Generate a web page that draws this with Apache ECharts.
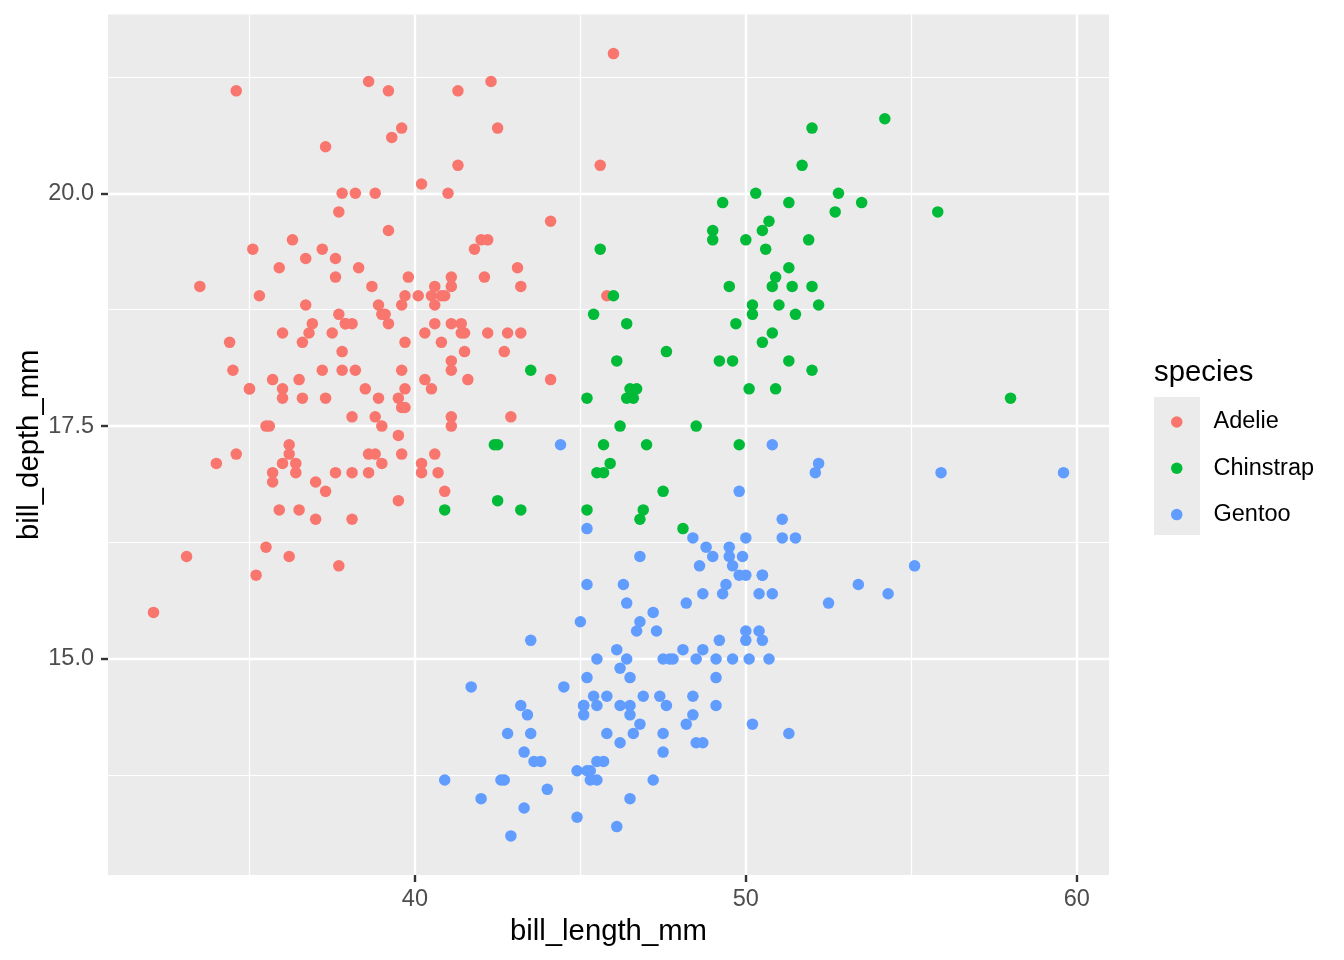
<!DOCTYPE html>
<html>
<head>
<meta charset="utf-8">
<title>penguins bill length vs depth</title>
<script src="https://cdn.jsdelivr.net/npm/echarts@6/dist/echarts.min.js"></script>
<style>
  html, body { margin: 0; padding: 0; background: #fff; }
  #chart { width: 1344px; height: 960px; }
</style>
</head>
<body>
<div id="chart"></div>
<script>
// bill_length_mm, bill_depth_mm per species
var adelie = [
  [39.1,18.7],[39.5,17.4],[40.3,18],[36.7,19.3],[39.3,20.6],[38.9,17.8],[39.2,19.6],[41.1,17.6],[38.6,21.2],
  [34.6,21.1],[36.6,17.8],[38.7,19],[42.5,20.7],[34.4,18.4],[46,21.5],[37.8,18.3],
  [37.7,18.7],[35.9,19.2],[38.2,18.1],[38.8,17.2],[35.3,18.9],[40.6,18.6],[40.5,17.9],[37.9,18.6],[40.5,18.9],[39.5,16.7],
  [37.2,18.1],[39.5,17.8],[40.9,18.9],[36.4,17],[39.2,21.1],[38.8,20],[42.2,18.5],[37.6,19.3],[39.8,19.1],[36.5,18],
  [40.8,18.4],[36,18.5],[44.1,19.7],[37,16.9],[39.6,18.8],[41.1,19],[36,17.9],[42.3,21.2],[39.6,17.7],
  [40.1,18.9],[35,17.9],[42,19.5],[34.5,18.1],[41.4,18.6],[39,17.5],[40.6,18.8],[36.5,16.6],[37.6,19.1],[35.7,16.9],
  [41.3,21.1],[37.6,17],[41.1,18.2],[36.4,17.1],[41.6,18],[35.5,16.2],[41.1,19.1],[35.9,16.6],[41.8,19.4],[33.5,19],
  [39.7,18.4],[39.6,17.2],[45.8,18.9],[35.5,17.5],[42.8,18.5],[40.9,16.8],[37.2,19.4],[36.2,16.1],[42.1,19.1],[34.6,17.2],
  [42.9,17.6],[36.7,18.8],[35.1,19.4],[37.3,17.8],[41.3,20.3],[36.3,19.5],[36.9,18.6],[38.3,19.2],[38.9,18.8],[35.7,18],
  [41.1,18.1],[34,17.1],[39.6,18.1],[36.2,17.3],[40.8,18.9],[38.1,18.6],[40.3,18.5],[33.1,16.1],[43.2,18.5],[35,17.9],
  [41,20],[37.7,16],[37.8,20],[37.9,18.6],[39.7,18.9],[38.6,17.2],[38.2,20],[38.1,17],[43.2,19],[38.1,16.5],
  [45.6,20.3],[39.7,17.7],[42.2,19.5],[39.6,20.7],[42.7,18.3],[38.6,17],[37.3,20.5],[35.7,17],[41.1,18.6],[36.2,17.2],
  [37.7,19.8],[40.2,17],[41.4,18.5],[35.2,15.9],[40.6,19],[38.8,17.6],[41.5,18.3],[39,17.1],[44.1,18],[38.5,17.9],
  [43.1,19.2],[36.8,18.5],[37.5,18.5],[38.1,17.6],[41.1,17.5],[35.6,17.5],[40.2,20.1],[37,16.5],[39.7,17.9],[40.2,17.1],
  [40.6,17.2],[32.1,15.5],[40.7,17],[37.3,16.8],[39,18.7],[39.2,18.6],[36.6,18.4],[36,17.8],[37.8,18.1],[36,17.1],
  [41.5,18.5]
];
var gentoo = [
  [46.1,13.2],[50,16.3],[48.7,14.1],[50,15.2],[47.6,14.5],[46.5,13.5],[45.4,14.6],[46.7,15.3],[43.3,13.4],[46.8,15.4],
  [40.9,13.7],[49,16.1],[45.5,13.7],[48.4,14.6],[45.8,14.6],[49.3,15.7],[42,13.5],[49.2,15.2],[46.2,14.5],[48.7,15.1],
  [50.2,14.3],[45.1,14.5],[46.5,14.5],[46.3,15.8],[42.9,13.1],[46.1,15.1],[47.8,15],[48.2,14.3],[50,15.3],
  [47.3,15.3],[42.8,14.2],[45.1,14.5],[59.6,17],[49.1,14.8],[48.4,16.3],[42.6,13.7],[44.4,17.3],[44,13.6],[48.7,15.7],
  [42.7,13.7],[49.6,16],[45.3,13.7],[49.6,15],[50.5,15.9],[43.6,13.9],[45.5,13.9],[50.5,15.9],[44.9,13.3],[45.2,15.8],
  [46.6,14.2],[48.5,14.1],[45.1,14.4],[50.1,15],[46.5,14.4],[45,15.4],[43.8,13.9],[45.5,15],[43.2,14.5],[50.4,15.3],
  [45.3,13.8],[46.2,14.9],[45.7,13.9],[54.3,15.7],[45.8,14.2],[49.8,16.8],[49.5,16.2],[43.5,14.2],[50.7,15],
  [47.7,15],[46.4,15.6],[48.2,15.6],[46.5,14.8],[46.4,15],[48.6,16],[47.5,14.2],[51.1,16.3],[45.2,13.8],[45.2,16.4],
  [49.1,14.5],[52.5,15.6],[47.4,14.6],[50,15.9],[44.9,13.8],[50.8,17.3],[43.4,14.4],[51.3,14.2],[47.5,14],[52.1,17],
  [47.5,15],[52.2,17.1],[45.5,14.5],[49.5,16.1],[44.5,14.7],[50.8,15.7],[49.4,15.8],[46.9,14.6],[48.4,14.4],[51.1,16.5],
  [48.5,15],[55.9,17],[47.2,15.5],[49.1,15],[46.8,16.1],[41.7,14.7],[53.4,15.8],[43.3,14],[48.1,15.1],
  [50.5,15.2],[49.8,15.9],[43.5,15.2],[51.5,16.3],[46.2,14.1],[55.1,16],[48.8,16.2],[47.2,13.7],[46.8,14.3],[50.4,15.7],
  [45.2,14.8],[49.9,16.1]
];
var chinstrap = [
  [46.5,17.9],[50,19.5],[51.3,19.2],[45.4,18.7],[52.7,19.8],[45.2,17.8],[46.1,18.2],[51.3,18.2],[46,18.9],[51.3,19.9],
  [46.6,17.8],[51.7,20.3],[47,17.3],[52,18.1],[45.9,17.1],[50.5,19.6],[50.3,20],[58,17.8],[46.4,18.6],[49.2,18.2],
  [42.4,17.3],[48.5,17.5],[43.2,16.6],[50.6,19.4],[46.7,17.9],[52,19],[50.5,18.4],[49.5,19],[46.4,17.8],[52.8,20],
  [40.9,16.6],[54.2,20.8],[42.5,16.7],[51,18.8],[49.7,18.6],[47.5,16.8],[47.6,18.3],[52,20.7],[46.9,16.6],[53.5,19.9],
  [49,19.5],[46.2,17.5],[50.9,19.1],[45.5,17],[50.9,17.9],[50.8,18.5],[50.1,17.9],[49,19.6],[51.5,18.7],[49.8,17.3],
  [48.1,16.4],[51.4,19],[45.7,17.3],[50.7,19.7],[42.5,17.3],[52.2,18.8],[45.2,16.6],[49.3,19.9],[50.2,18.8],[45.6,19.4],
  [51.9,19.5],[46.8,16.5],[45.7,17],[55.8,19.8],[43.5,18.1],[49.6,18.2],[50.8,19],[50.2,18.7]
];

var species = ['Adelie', 'Chinstrap', 'Gentoo'];
var colors = { Adelie: '#F8766D', Chinstrap: '#00BA38', Gentoo: '#619CFF' };

var xMajor = [40, 50, 60];
var xMinor = [35, 45, 55];
var yMajor = [15, 17.5, 20];
var yMinor = [13.75, 16.25, 18.75, 21.25];

// ggplot style 5% padding around data range
var xMin = 30.725, xMax = 60.975;
var yMin = 12.68, yMax = 21.92;

var font = 'Liberation Sans, Arial, Helvetica, sans-serif';

var myChart = echarts.init(document.getElementById('chart'));

function pointSeries(name, data) {
	return {
		name: name,
		type: 'scatter',
		data: data,
		symbol: 'circle',
		symbolSize: 11.5,
		itemStyle: { color: colors[name], opacity: 1 },
		emphasis: { disabled: true }
	};
}

var option = {
	animation: false,
	backgroundColor: '#ffffff',
	textStyle: { fontFamily: font },
	grid: {
		left: 108, right: 235, top: 14.5, bottom: 85,
		show: true, backgroundColor: '#EBEBEB', borderWidth: 0,
		containLabel: false, outerBoundsMode: 'none'
	},
	title: {
		text: 'species', left: 1154, top: 358, padding: 0,
		textStyle: { fontFamily: font, fontSize: 29.3, fontWeight: 'normal', color: '#000', lineHeight: 30 }
	},
	graphic: [{
		type: 'rect', z: -1,
		shape: { x: 1154, y: 397, width: 46, height: 138 },
		style: { fill: '#EBEBEB' }
	}],
	legend: {
		data: species,
		orient: 'vertical',
		left: 1171, top: 410, padding: 0,
		icon: 'circle', itemWidth: 11.5, itemHeight: 11.5, itemGap: 22.3,
		selectedMode: false,
		textStyle: { fontFamily: font, fontSize: 23.5, color: '#000', lineHeight: 24, padding: [0, 0, 0, 26] }
	},
	xAxis: [{
		type: 'value', min: xMin, max: xMax,
		name: 'bill_length_mm', nameLocation: 'middle', nameGap: 42, nameMoveOverlap: false,
		nameTextStyle: { fontFamily: font, fontSize: 29.3, color: '#000' },
		axisLine: { show: false },
		axisTick: { show: true, customValues: xMajor, length: 7, lineStyle: { color: '#333333', width: 2.4 } },
		axisLabel: { customValues: xMajor, margin: 13, fontFamily: font, fontSize: 23.5, color: '#4D4D4D' },
		splitLine: { show: true, lineStyle: { color: '#ffffff', width: 2.4 } }
	}, {
		type: 'value', min: xMin, max: xMax,
		axisLine: { show: false },
		axisTick: { show: false, customValues: xMinor },
		axisLabel: { show: false, customValues: xMinor },
		splitLine: { show: true, lineStyle: { color: '#ffffff', width: 1.2 } }
	}],
	yAxis: [{
		type: 'value', min: yMin, max: yMax,
		name: 'bill_depth_mm', nameLocation: 'middle', nameGap: 64, nameMoveOverlap: false,
		nameTextStyle: { fontFamily: font, fontSize: 29.3, color: '#000' },
		axisLine: { show: false },
		axisTick: { show: true, customValues: yMajor, length: 7, lineStyle: { color: '#333333', width: 2.4 } },
		axisLabel: {
			customValues: yMajor, margin: 14, fontFamily: font, fontSize: 23.5, color: '#4D4D4D',
			formatter: function (v) { return v.toFixed(1); }
		},
		splitLine: { show: true, lineStyle: { color: '#ffffff', width: 2.4 } }
	}, {
		type: 'value', min: yMin, max: yMax,
		axisLine: { show: false },
		axisTick: { show: false, customValues: yMinor },
		axisLabel: { show: false, customValues: yMinor },
		splitLine: { show: true, lineStyle: { color: '#ffffff', width: 1.2 } }
	}],
	// drawn in data order like ggplot (Adelie, Gentoo, Chinstrap)
	series: [
		pointSeries('Adelie', adelie),
		pointSeries('Gentoo', gentoo),
		pointSeries('Chinstrap', chinstrap)
	]
};
myChart.setOption(option);
</script>
</body>
</html>
